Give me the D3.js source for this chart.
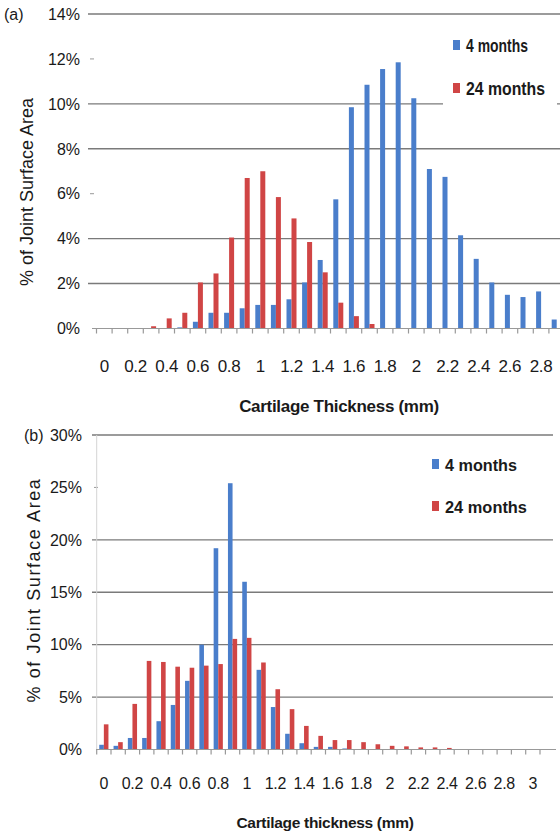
<!DOCTYPE html>
<html>
<head>
<meta charset="utf-8">
<script src="https://cdn.jsdelivr.net/npm/d3@7"></script>
<style>
  html, body { margin: 0; padding: 0; background: #fff; }
  svg { display: block; }
  text { font-family: "Liberation Sans", "DejaVu Sans", sans-serif; fill: #1a1a1a; }
</style>
</head>
<body>
<div id="chart"></div>
<script>
// Panel (a): thickness bins 0 .. 2.9 mm
const catsA = ["0","0.1","0.2","0.3","0.4","0.5","0.6","0.7","0.8","0.9",
               "1","1.1","1.2","1.3","1.4","1.5","1.6","1.7","1.8","1.9",
               "2","2.1","2.2","2.3","2.4","2.5","2.6","2.7","2.8","2.9"];
const ticksA = ["0","0.2","0.4","0.6","0.8","1","1.2","1.4","1.6","1.8","2","2.2","2.4","2.6","2.8"];
const fourMonthsA = [0,0,0,0,0,0.05,0.3,0.7,0.7,0.9,
                     1.05,1.05,1.3,2.05,3.05,5.75,9.85,10.85,11.55,11.85,
                     10.25,7.1,6.75,4.15,3.1,2.05,1.5,1.4,1.65,0.4];
const twentyFourMonthsA = [0,0,0,0.1,0.45,0.7,2.05,2.45,4.05,6.7,
                           7.0,5.85,4.9,3.85,2.5,1.15,0.55,0.2,0,0,
                           0,0,0,0,0,0,0,0,0,0];
const yTicksA = [0,2,4,6,8,10,12,14];
const gridA = [2,4,8,10,14];

// Panel (b): thickness bins 0 .. 3.1 mm
const catsB = ["0","0.1","0.2","0.3","0.4","0.5","0.6","0.7","0.8","0.9",
               "1","1.1","1.2","1.3","1.4","1.5","1.6","1.7","1.8","1.9",
               "2","2.1","2.2","2.3","2.4","2.5","2.6","2.7","2.8","2.9","3","3.1"];
const ticksB = ["0","0.2","0.4","0.6","0.8","1","1.2","1.4","1.6","1.8","2","2.2","2.4","2.6","2.8","3"];
const fourMonthsB = [0.45,0.35,1.1,1.1,2.7,4.25,6.55,10.0,19.2,25.4,
                     16.0,7.6,4.05,1.5,0.6,0.25,0.25,0.1,0,0,
                     0,0,0,0,0,0,0,0,0,0,0,0];
const twentyFourMonthsB = [2.4,0.7,4.35,8.45,8.35,7.9,7.8,8.0,8.15,10.55,
                           10.65,8.3,5.75,3.85,2.25,1.3,0.9,0.9,0.7,0.5,
                           0.35,0.3,0.2,0.2,0.15,0,0,0,0,0,0,0];
const yTicksB = [0,5,10,15,20,25,30];
const gridB = [5,10,15,20,30];

const seriesNames = ["4 months", "24 months"];
const colors = ["#4a7ecb", "#d04545"];

const width = 560, height = 840;
const svg = d3.select("#chart").append("svg")
    .attr("width", width).attr("height", height);

function drawPanel(p) {
    const g = svg.append("g");
    const x = d3.scaleBand().domain(p.cats).range([p.x0, p.x0 + p.band * p.cats.length]);
    const y = d3.scaleLinear().domain([0, p.yMax]).range([p.yBase, p.yTop]);

    // horizontal gridlines (some are missing in the original)
    g.selectAll("line.grid").data(p.grid).enter().append("line")
        .attr("class", "grid")
        .attr("x1", p.gridX0).attr("x2", p.gridX1)
        .attr("y1", d => y(d)).attr("y2", d => y(d))
        .attr("stroke", "#7a7a7a").attr("stroke-width", 1.4);

    // short dashes for ticks without gridline
    g.selectAll("line.dash").data(p.yTicks.filter(t => t > 0 && !p.grid.includes(t))).enter().append("line")
        .attr("class", "dash")
        .attr("x1", p.gridX0 + 2).attr("x2", p.gridX0 + 6)
        .attr("y1", d => y(d)).attr("y2", d => y(d))
        .attr("stroke", "#999").attr("stroke-width", 1);

    if (p.vline) {
        g.append("line")
            .attr("x1", p.x0).attr("x2", p.x0)
            .attr("y1", y(p.yMax)).attr("y2", y(0))
            .attr("stroke", "#d4d4d4").attr("stroke-width", 1);
    }

    // y tick labels
    g.selectAll("text.ylab").data(p.yTicks).enter().append("text")
        .attr("class", "ylab")
        .attr("x", p.yLabX).attr("y", d => y(d))
        .attr("dy", "0.36em")
        .attr("text-anchor", "end")
        .attr("font-size", p.yLabSize)
        .text(d => d + "%");

    // bars
    const w = p.barW;
    [p.four, p.twentyFour].forEach((vals, si) => {
        g.selectAll("rect.bar" + si).data(vals).enter().append("rect")
            .attr("class", "bar" + si)
            .attr("x", (d, i) => x(p.cats[i]) + x.bandwidth() / 2 - (si === 0 ? w : 0))
            .attr("y", d => y(d))
            .attr("width", w)
            .attr("height", d => y(0) - y(d))
            .attr("fill", colors[si]);
    });

    // x axis line with ticks at bin boundaries
    g.append("line")
        .attr("x1", p.gridX0 + 4).attr("x2", p.axisX1)
        .attr("y1", y(0)).attr("y2", y(0))
        .attr("stroke", "#999").attr("stroke-width", 1.2);
    g.selectAll("line.xtick").data(p.cats).enter().append("line")
        .attr("class", "xtick")
        .attr("x1", d => x(d)).attr("x2", d => x(d))
        .attr("y1", y(0)).attr("y2", y(0) + 5)
        .attr("stroke", "#999").attr("stroke-width", 1.2);

    // x tick labels
    g.selectAll("text.xlab").data(p.ticks).enter().append("text")
        .attr("class", "xlab")
        .attr("x", d => x(d) + x.bandwidth() / 2)
        .attr("y", p.xLabY)
        .attr("text-anchor", "middle")
        .attr("font-size", p.xLabSize)
        .attr("letter-spacing", "-0.3px")
        .text(d => d);

    // axis titles
    g.append("text")
        .attr("x", p.xTitleX).attr("y", p.xTitleY)
        .attr("text-anchor", "middle")
        .attr("font-size", p.xTitleSize).attr("font-weight", "bold")
        .attr("letter-spacing", "-0.3px")
        .text(p.xTitle);
    g.append("text")
        .attr("transform", `translate(${p.yTitleX},${p.yTitleY}) rotate(-90)`)
        .attr("text-anchor", "middle")
        .attr("font-size", 18)
        .attr("letter-spacing", p.yTitleSpacing)
        .text("% of Joint Surface Area");

    // panel letter
    g.append("text")
        .attr("x", p.letterX).attr("y", y(p.yMax))
        .attr("dy", "0.36em")
        .attr("font-size", p.yLabSize)
        .text(p.letter);

    // legend
    if (p.legendBox) {
        g.append("rect")
            .attr("x", p.legendBox[0]).attr("y", p.legendBox[1])
            .attr("width", p.legendBox[2]).attr("height", p.legendBox[3])
            .attr("fill", "#fff");
    }
    seriesNames.forEach((name, i) => {
        const ly = p.legendY[i];
        g.append("rect")
            .attr("x", p.legendX).attr("y", ly - 6)
            .attr("width", 7).attr("height", 10)
            .attr("fill", colors[i]);
        g.append("text")
            .attr("x", p.legendX + 13).attr("y", ly)
            .attr("dy", "0.36em")
            .attr("font-size", p.legendSize)
            .attr("font-weight", "bold")
            .attr("textLength", p.legendLen[i])
            .attr("lengthAdjust", "spacingAndGlyphs")
            .text(name);
    });
}

drawPanel({
    letter: "(a)", cats: catsA, ticks: ticksA, four: fourMonthsA, twentyFour: twentyFourMonthsA,
    yTicks: yTicksA, grid: gridA, yMax: 14, yBase: 328.5, yTop: 14,
    x0: 96.5, band: 15.6, barW: 5, gridX0: 88, gridX1: 560, axisX1: 560,
    yLabX: 80, yLabSize: 16, letterX: 4,
    xLabY: 372, xLabSize: 17, xTitle: "Cartilage Thickness (mm)", xTitleX: 339, xTitleY: 412, xTitleSize: 17,
    yTitleX: 33, yTitleY: 192, yTitleSpacing: "0px",
    legendBox: [443, 24, 114, 84], legendX: 453, legendY: [46, 89], legendSize: 18, legendLen: [62, 79]
});

drawPanel({
    letter: "(b)", cats: catsB, ticks: ticksB, four: fourMonthsB, twentyFour: twentyFourMonthsB,
    yTicks: yTicksB, grid: gridB, yMax: 30, yBase: 749.5, yTop: 435,
    x0: 96.7, band: 14.3, barW: 4.6, gridX0: 92, gridX1: 553, axisX1: 556,
    yLabX: 82, yLabSize: 16, letterX: 24,
    xLabY: 789, xLabSize: 16, xTitle: "Cartilage thickness (mm)", xTitleX: 325, xTitleY: 828, xTitleSize: 15.5,
    yTitleX: 40, yTitleY: 590, yTitleSpacing: "1.6px",
    legendBox: null, legendX: 432, legendY: [465, 507], legendSize: 17, legendLen: [72, 82], vline: true
});
</script>
</body>
</html>
